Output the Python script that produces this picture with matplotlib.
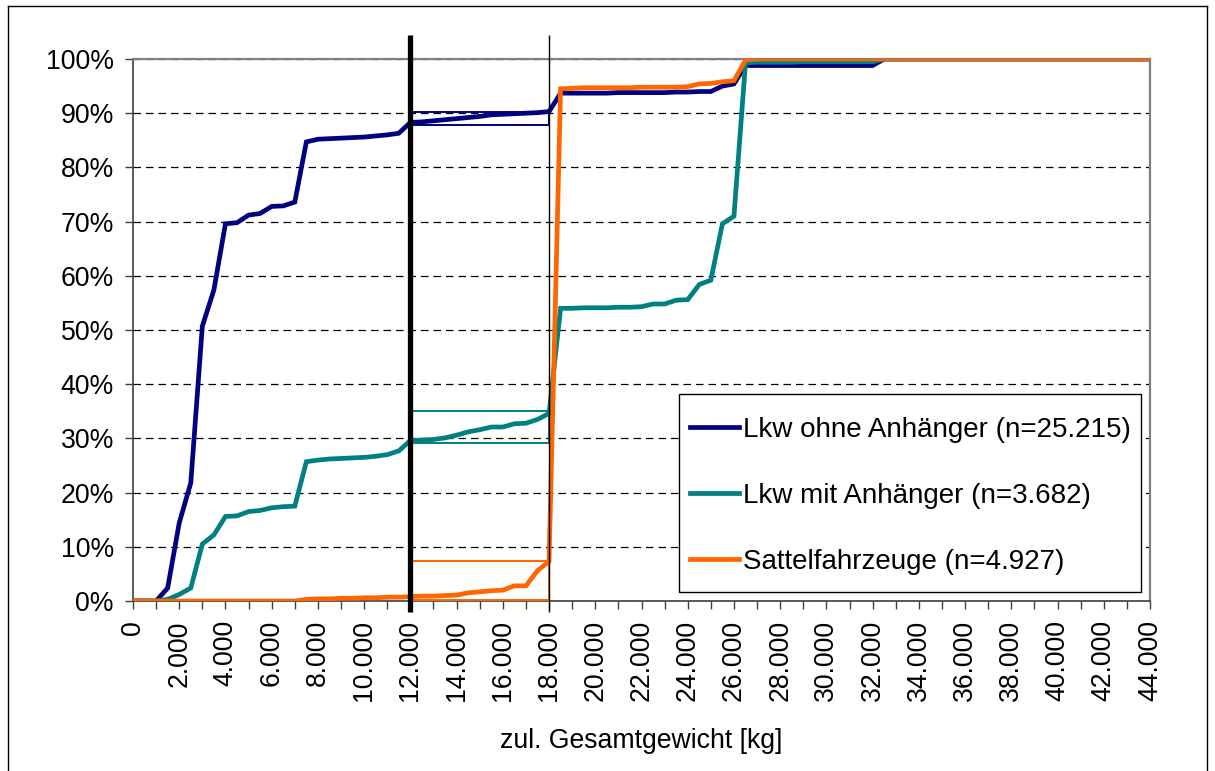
import numpy as np
import matplotlib
matplotlib.use("Agg")
import matplotlib.pyplot as plt
from matplotlib.ticker import FixedLocator, FuncFormatter
from matplotlib.lines import Line2D
from matplotlib.patches import Rectangle

plt.rcParams["font.family"] = ["Liberation Sans", "DejaVu Sans"]
plt.rcParams["font.size"] = 19.2

# zul. Gesamtgewicht in 500-kg-Schritten
gewicht = [
    0, 500, 1000, 1500, 2000, 2500, 3000, 3500, 4000, 4500,
    5000, 5500, 6000, 6500, 7000, 7500, 8000, 8500, 9000, 9500,
    10000, 10500, 11000, 11500, 12000, 12500, 13000, 13500, 14000, 14500,
    15000, 15500, 16000, 16500, 17000, 17500, 18000, 18500, 19000, 19500,
    20000, 20500, 21000, 21500, 22000, 22500, 23000, 23500, 24000, 24500,
    25000, 25500, 26000, 26500, 27000, 27500, 28000, 28500, 29000, 29500,
    30000, 30500, 31000, 31500, 32000, 32500, 33000, 33500, 34000, 34500,
    35000, 35500, 36000, 36500, 37000, 37500, 38000, 38500, 39000, 39500,
    40000, 40500, 41000, 41500, 42000, 42500, 43000, 43500, 44000,
]

# kumulierte Anteile in %
lkw_ohne = [
    0.0, 0.0, 0.0, 2.4, 14.4, 21.8, 50.7, 57.4, 69.6, 69.8,
    71.2, 71.5, 72.8, 72.9, 73.6, 84.7, 85.2, 85.3, 85.4, 85.5,
    85.6, 85.8, 86.0, 86.3, 88.3, 88.4, 88.6, 88.8, 89.0, 89.2,
    89.4, 89.7, 89.8, 89.9, 90.0, 90.1, 90.3, 93.7, 93.7, 93.7,
    93.7, 93.7, 93.8, 93.8, 93.8, 93.8, 93.8, 93.9, 93.9, 94.0,
    94.0, 95.0, 95.4, 98.8, 98.8, 98.8, 98.8, 98.8, 98.8, 98.8,
    98.8, 98.8, 98.8, 98.8, 98.8, 100.0, 100.0, 100.0, 100.0, 100.0,
    100.0, 100.0, 100.0, 100.0, 100.0, 100.0, 100.0, 100.0, 100.0, 100.0,
    100.0, 100.0, 100.0, 100.0, 100.0, 100.0, 100.0, 100.0, 100.0,
]
lkw_mit = [
    0.0, 0.0, 0.0, 0.3, 1.2, 2.4, 10.5, 12.2, 15.6, 15.7,
    16.5, 16.7, 17.2, 17.4, 17.5, 25.7, 26.0, 26.2, 26.3, 26.4,
    26.5, 26.7, 27.0, 27.7, 29.6, 29.7, 29.8, 30.1, 30.6, 31.2,
    31.6, 32.1, 32.1, 32.7, 32.8, 33.5, 34.6, 54.0, 54.0, 54.1,
    54.1, 54.1, 54.2, 54.2, 54.3, 54.8, 54.8, 55.5, 55.6, 58.4,
    59.2, 69.6, 71.0, 99.3, 99.4, 99.4, 99.4, 99.4, 99.5, 99.5,
    99.5, 99.5, 99.5, 99.5, 99.5, 100.0, 100.0, 100.0, 100.0, 100.0,
    100.0, 100.0, 100.0, 100.0, 100.0, 100.0, 100.0, 100.0, 100.0, 100.0,
    100.0, 100.0, 100.0, 100.0, 100.0, 100.0, 100.0, 100.0, 100.0,
]
sattel = [
    0.0, 0.0, 0.0, 0.0, 0.0, 0.0, 0.0, 0.0, 0.0, 0.0,
    0.0, 0.0, 0.0, 0.0, 0.0, 0.3, 0.4, 0.4, 0.5, 0.5,
    0.6, 0.6, 0.7, 0.7, 0.8, 0.9, 0.9, 1.0, 1.1, 1.5,
    1.7, 1.9, 2.0, 2.8, 2.8, 5.6, 7.3, 94.5, 94.6, 94.7,
    94.7, 94.7, 94.7, 94.7, 94.8, 94.8, 94.8, 94.8, 94.9, 95.4,
    95.5, 95.8, 96.0, 99.8, 100.0, 100.0, 100.0, 100.0, 100.0, 100.0,
    100.0, 100.0, 100.0, 100.0, 100.0, 100.0, 100.0, 100.0, 100.0, 100.0,
    100.0, 100.0, 100.0, 100.0, 100.0, 100.0, 100.0, 100.0, 100.0, 100.0,
    100.0, 100.0, 100.0, 100.0, 100.0, 100.0, 100.0, 100.0, 100.0,
]

serien = ["Lkw ohne Anhänger (n=25.215)",
          "Lkw mit Anhänger (n=3.682)",
          "Sattelfahrzeuge (n=4.927)"]
farben = ["#000080", "#008080", "#FF6600"]

# Spanne zwischen 12 t und 18 t (unterer / oberer Wert je Gruppe)
grenzen = [12000, 18000]
spanne_unten = [87.9, 29.2, 0.1]
spanne_oben = [90.3, 35.0, 7.3]

fig = plt.figure(figsize=(12.15, 7.71), dpi=100)
ax = fig.add_axes([133 / 1215, 1 - 601 / 771, 1017 / 1215, 542 / 771])

for werte, name, farbe in zip([lkw_ohne, lkw_mit, sattel], serien, farben):
    ax.plot(gewicht, werte, color=farbe, lw=3.4, label=name, zorder=4,
            solid_joinstyle="miter")

for farbe, lo, hi in zip(farben, spanne_unten, spanne_oben):
    ax.plot(grenzen, [lo, lo], color=farbe, lw=1.4, zorder=3)
    ax.plot(grenzen, [hi, hi], color=farbe, lw=1.4, zorder=3)
    ax.plot([grenzen[1], grenzen[1]], [lo, hi], color=farbe, lw=1.4, zorder=3)

# Grenzlinien bei 12 t und 18 t
ax.plot([grenzen[0], grenzen[0]], [-2.0, 104.4], color="black", lw=3.8,
        clip_on=False, zorder=6, solid_capstyle="butt")
ax.plot([grenzen[1], grenzen[1]], [-2.0, 104.4], color="black", lw=1.0,
        clip_on=False, zorder=6, solid_capstyle="butt")

ax.set_xlim(0, 44000)
ax.set_ylim(0, 100)

ax.xaxis.set_major_locator(FixedLocator(range(0, 44001, 2000)))
ax.xaxis.set_minor_locator(FixedLocator(range(1000, 44000, 2000)))
ax.xaxis.set_major_formatter(FuncFormatter(lambda v, p: f"{int(v):,}".replace(",", ".")))
ax.yaxis.set_major_locator(FixedLocator(range(0, 101, 10)))
ax.yaxis.set_major_formatter(FuncFormatter(lambda v, p: f"{int(v)}%"))

ax.tick_params(axis="x", which="both", direction="out", length=5.8, width=1,
               color="#404040", labelrotation=90, pad=8)
ax.tick_params(axis="y", direction="out", length=5.8, width=1,
               color="#404040", pad=8)

ax.grid(axis="y", color="black", lw=0.9, linestyle=(0, (6, 4)), zorder=1)
ax.set_axisbelow(True)

for s in ["top", "right"]:
    ax.spines[s].set_color("#808080")
    ax.spines[s].set_linewidth(1.6)
for s in ["left", "bottom"]:
    ax.spines[s].set_color("#404040")
    ax.spines[s].set_linewidth(1.2)

ax.set_xlabel("zul. Gesamtgewicht [kg]", labelpad=19.5)

# Legendenrahmen separat, damit die Innenabstände frei wählbar sind
ax.add_patch(Rectangle((0.537, 0.017), 0.454, 0.365, transform=ax.transAxes,
                       facecolor="white", edgecolor="black", lw=1.0, zorder=7))
leg = ax.legend(loc="center left", bbox_to_anchor=(0.537, 0.194),
                borderaxespad=0, frameon=False, fontsize=20,
                handlelength=1.76, handletextpad=0.15,
                labelspacing=1.44, borderpad=0.4)
leg.set_zorder(8)

# äußerer Rahmen
for xs, ys in [([8, 8], [6, 771]), ([8, 1207], [6, 6]), ([1207, 1207], [6, 771])]:
    fig.add_artist(Line2D([x / 1215 for x in xs], [1 - y / 771 for y in ys],
                          color="black", lw=1.0))

fig.savefig("out.png", dpi=100)
